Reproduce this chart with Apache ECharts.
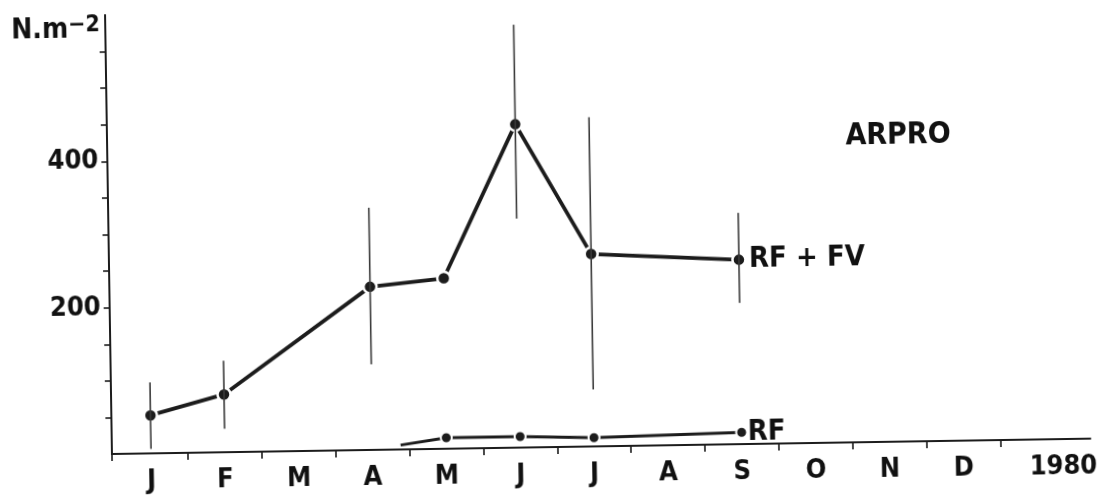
<!DOCTYPE html>
<html><head><meta charset="utf-8">
<script src="https://cdn.jsdelivr.net/npm/echarts@6.0.0/dist/echarts.min.js"></script>
<style>
html,body{margin:0;padding:0;background:#fff;overflow:hidden;width:1100px;height:495px}
#chart{position:absolute;left:0;top:0;width:1100px;height:495px;transform:rotate(-0.9deg);transform-origin:112px 457px}
</style></head><body><div id="chart"></div>
<script>
// ---- data ----
const monthLabels = ['J','F','M','A','M','J','J','A','S','O','N','D'];
const yearLabel = '1980';
const yTickLabels = [200, 400];
const yMinorTicks = [50,100,150,200,250,300,350,400,450,500,550];
const unitLabel = 'N.m';
const unitExp = '−2';
const siteLabel = 'ARPRO';
// RF + FV series (month index, mean, error bar low/high)
const rfFvName = 'RF + FV';
const rfFvMonth = [0, 1, 3, 4, 5, 6, 8];
const rfFvMean  = [52, 79, 223, 233, 442, 263, 252];
const rfFvLow   = [6, 32, 117, null, 313, 78, 193];
const rfFvHigh  = [97, 125, 331, null, 578, 450, 316];
// RF series
const rfName = 'RF';
const rfMonth = [3.38, 4, 5, 6, 8];
const rfMean  = [6, 15, 15, 12, 16];

// ---- chart ----
const FONT = '"Liberation Sans Narrow","Arial Narrow","DejaVu Sans Condensed","Liberation Sans",sans-serif';
const INK = '#1c1c1c';
const labelValues = monthLabels.map((_, i) => i).concat([12.35]);
const labelTexts = monthLabels.concat([yearLabel]);
const tickValues = [-0.53].concat(monthLabels.map((_, i) => i + 0.5));

const rfFvData = rfFvMonth.map((m, i) => [m, rfFvMean[i]]);
const rfData = rfMonth.map((m, i) => i === 0
  ? { value: [m, rfMean[i]], symbol: 'none' }
  : [m, rfMean[i]]);
const errData = [];
rfFvMonth.forEach((m, i) => { if (rfFvLow[i] != null) errData.push([m, rfFvLow[i], rfFvHigh[i]]); });

const chart = echarts.init(document.getElementById('chart'), null, { renderer: 'canvas' });
chart.setOption({
  animation: false,
  backgroundColor: '#fff',
  grid: { left: 112, right: 5, top: 15, bottom: 38, containLabel: false },
  xAxis: {
    type: 'value', min: -0.53, max: 12.72,
    splitLine: { show: false },
    axisLine: { show: true, onZero: false, lineStyle: { color: INK, width: 2 } },
    axisTick: { show: true, customValues: tickValues, length: 7, inside: false, lineStyle: { color: INK, width: 1.6 } },
    axisLabel: {
      show: true, customValues: labelValues, margin: 14,
      fontFamily: FONT, fontWeight: 'bold', fontSize: 27, color: '#111',
      formatter: v => { const k = labelValues.findIndex(x => Math.abs(x - v) < 1e-6); return k >= 0 ? labelTexts[k] : ''; }
    }
  },
  yAxis: {
    type: 'value', min: 0, max: 600,
    splitLine: { show: false },
    axisLine: { show: true, onZero: false, lineStyle: { color: INK, width: 2 } },
    axisTick: { show: true, customValues: yMinorTicks, length: 6, lineStyle: { color: INK, width: 1.6 } },
    axisLabel: {
      show: true, customValues: yTickLabels, margin: 9,
      fontFamily: FONT, fontWeight: 'bold', fontSize: 27, color: '#111'
    }
  },
  graphic: [
    { type: 'text', left: 18, top: 14, z: 10,
      style: { text: '{a|' + unitLabel + '}{b|' + unitExp + '}', fill: '#111',
        rich: { a: { fontFamily: FONT, fontWeight: 'bold', fontSize: 28, lineHeight: 30, verticalAlign: 'bottom' },
                b: { fontFamily: FONT, fontWeight: 'bold', fontSize: 23, lineHeight: 24, verticalAlign: 'top' } } } },
    { type: 'text', x: 903, y: 148, z: 10,
      style: { text: siteLabel, fill: '#111', fontFamily: FONT, fontWeight: 'bold', fontSize: 30, align: 'center', verticalAlign: 'middle' } }
  ],
  series: [
    {
      name: rfFvName, type: 'line', data: rfFvData, z: 3,
      symbol: 'circle', symbolSize: 13,
      lineStyle: { color: INK, width: 3.8 },
      itemStyle: { color: INK, borderColor: '#fff', borderWidth: 2.5 },
      endLabel: { show: true, formatter: rfFvName, distance: 10, color: '#111', fontFamily: FONT, fontWeight: 'bold', fontSize: 29 }
    },
    {
      type: 'custom', data: errData, z: 5,
      encode: { x: 0, y: [1, 2] },
      renderItem: (params, api) => {
        const p1 = api.coord([api.value(0), api.value(1)]);
        const p2 = api.coord([api.value(0), api.value(2)]);
        return { type: 'line', shape: { x1: p1[0], y1: p1[1], x2: p2[0], y2: p2[1] }, style: { stroke: '#3a3a3a', lineWidth: 1.6 } };
      }
    },
    {
      name: rfName, type: 'line', data: rfData, z: 3,
      symbol: 'circle', symbolSize: 11,
      lineStyle: { color: INK, width: 3 },
      itemStyle: { color: INK, borderColor: '#fff', borderWidth: 2 },
      endLabel: { show: true, formatter: rfName, distance: 6, color: '#111', fontFamily: FONT, fontWeight: 'bold', fontSize: 29 }
    }
  ]
});
</script></body></html>
